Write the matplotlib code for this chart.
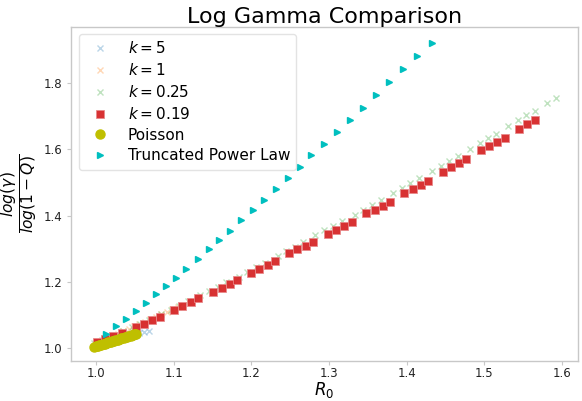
import matplotlib
matplotlib.use("Agg")
import matplotlib.pyplot as plt

# k = 5
k5_R = [0.999, 1.006, 1.013, 1.020, 1.027, 1.034, 1.041, 1.048, 1.055, 1.062, 1.068]
k5_v = [1.004, 1.009, 1.014, 1.019, 1.024, 1.029, 1.034, 1.039, 1.044, 1.049, 1.052]

# k = 1
k1_R = [1.000, 1.007, 1.014, 1.021, 1.028, 1.035, 1.042, 1.049, 1.056, 1.063,
        1.070, 1.077, 1.084, 1.091, 1.098, 1.105]
k1_v = [1.012, 1.020, 1.028, 1.035, 1.043, 1.050, 1.058, 1.065, 1.073, 1.080,
        1.088, 1.095, 1.103, 1.110, 1.118, 1.125]

# k = 0.25
k025_R = [0.998, 1.008, 1.019, 1.035, 1.046, 1.057, 1.068, 1.084, 1.096, 1.107,
          1.118, 1.134, 1.145, 1.157, 1.168, 1.184, 1.195, 1.206, 1.218, 1.234,
          1.245, 1.256, 1.267, 1.282, 1.294, 1.305, 1.317, 1.333, 1.344, 1.355,
          1.367, 1.382, 1.394, 1.405, 1.416, 1.433, 1.444, 1.455, 1.466, 1.482,
          1.494, 1.505, 1.515, 1.531, 1.543, 1.554, 1.565, 1.581, 1.592]
k025_v = [1.014, 1.024, 1.035, 1.051, 1.063, 1.074, 1.085, 1.102, 1.115, 1.128,
          1.141, 1.159, 1.172, 1.185, 1.198, 1.216, 1.230, 1.244, 1.258, 1.278,
          1.292, 1.306, 1.320, 1.342, 1.357, 1.370, 1.384, 1.403, 1.417, 1.432,
          1.447, 1.469, 1.484, 1.498, 1.513, 1.534, 1.550, 1.564, 1.579, 1.601,
          1.619, 1.634, 1.648, 1.671, 1.688, 1.703, 1.716, 1.741, 1.756]

# k = 0.19
k019_R = [1.001, 1.012, 1.022, 1.033, 1.052, 1.062, 1.072, 1.083, 1.101, 1.111,
          1.122, 1.132, 1.151, 1.162, 1.172, 1.182, 1.200, 1.210, 1.221, 1.231,
          1.249, 1.259, 1.270, 1.280, 1.299, 1.309, 1.320, 1.330, 1.348, 1.359,
          1.369, 1.379, 1.397, 1.408, 1.418, 1.428, 1.447, 1.457, 1.467, 1.477,
          1.496, 1.506, 1.516, 1.527, 1.545, 1.555, 1.566]
k019_v = [1.017, 1.027, 1.036, 1.045, 1.062, 1.074, 1.085, 1.095, 1.116, 1.128,
          1.140, 1.150, 1.170, 1.182, 1.193, 1.204, 1.227, 1.238, 1.250, 1.262,
          1.286, 1.298, 1.309, 1.321, 1.345, 1.357, 1.369, 1.381, 1.408, 1.418,
          1.430, 1.442, 1.469, 1.481, 1.493, 1.505, 1.533, 1.546, 1.558, 1.570,
          1.598, 1.611, 1.623, 1.635, 1.663, 1.677, 1.689]

# Poisson
poi_R = [0.998, 0.9995, 1.001, 1.0025, 1.004, 1.0055, 1.007, 1.0085, 1.010, 1.0115,
         1.013, 1.0145, 1.016, 1.0175, 1.019, 1.0205, 1.022, 1.0235, 1.025, 1.0265,
         1.028, 1.0295, 1.031, 1.0325, 1.034, 1.0355, 1.037, 1.0385, 1.040, 1.0415,
         1.043, 1.0445, 1.046, 1.0475, 1.049, 1.0505, 1.052]
poi_v = [1.004, 1.005, 1.006, 1.007, 1.008, 1.009, 1.010, 1.011, 1.012, 1.013,
         1.014, 1.016, 1.017, 1.018, 1.019, 1.020, 1.021, 1.022, 1.023, 1.024,
         1.025, 1.026, 1.027, 1.029, 1.030, 1.031, 1.032, 1.033, 1.034, 1.035,
         1.036, 1.037, 1.038, 1.040, 1.041, 1.042, 1.043]

# Truncated power law
tpl_R = [1.013, 1.026, 1.039, 1.051, 1.064, 1.077, 1.090, 1.103, 1.116, 1.131,
         1.145, 1.159, 1.173, 1.187, 1.202, 1.217, 1.232, 1.247, 1.263, 1.277,
         1.294, 1.311, 1.327, 1.344, 1.361, 1.378, 1.396, 1.414, 1.433]
tpl_v = [1.042, 1.065, 1.087, 1.112, 1.137, 1.162, 1.188, 1.212, 1.240, 1.268,
         1.298, 1.327, 1.355, 1.386, 1.417, 1.448, 1.480, 1.513, 1.548, 1.582,
         1.617, 1.653, 1.690, 1.726, 1.764, 1.803, 1.842, 1.883, 1.923]

x_ticks = [1.0, 1.1, 1.2, 1.3, 1.4, 1.5, 1.6]
y_ticks = [1.0, 1.2, 1.4, 1.6, 1.8]

fig = plt.figure(figsize=(5.82, 4.01), dpi=100)
ax = fig.add_axes([0.122, 0.1, 0.871, 0.8334])

ax.plot(k5_R, k5_v, 'x', color='tab:blue', alpha=0.3, ms=5, label='$k=5$')
ax.plot(k1_R, k1_v, 'x', color='tab:orange', alpha=0.3, ms=5, label='$k=1$')
ax.plot(k025_R, k025_v, 'x', color='tab:green', alpha=0.3, ms=5, label='$k=0.25$')
ax.plot(k019_R, k019_v, 's', color='tab:red', alpha=0.95, ms=5.3, mec='#e8898a', mew=0.6,
        label='$k=0.19$')
ax.plot(poi_R, poi_v, 'o', color='y', ms=6.5, label='Poisson')
ax.plot(tpl_R, tpl_v, '>', color='c', ms=5, label='Truncated Power Law')

ax.set_xlim(0.9678, 1.6207)
ax.set_ylim(0.961, 1.971)
ax.set_xticks(x_ticks)
ax.set_yticks(y_ticks)
ax.set_xticklabels([f"{t:.1f}" for t in x_ticks])
ax.set_yticklabels([f"{t:.1f}" for t in y_ticks])

for s in ax.spines.values():
    s.set_color('#c8c8c8')
    s.set_linewidth(1.0)
ax.tick_params(axis='both', labelsize=8.5, colors='#c8c8c8', labelcolor='#222222',
               length=3, width=0.8)
ax.tick_params(axis='x', pad=1.5)

ax.set_title('Log Gamma Comparison', fontsize=16, pad=-3.2)
ax.set_xlabel('$R_0$', fontsize=12, labelpad=0)
ax.set_ylabel(r'$\frac{log(\gamma)}{log(1-Q)}$', fontsize=16, labelpad=2)

leg = ax.legend(loc='upper left', fontsize=11, numpoints=1, frameon=True,
                borderaxespad=0.5, labelspacing=0.38)
leg.get_frame().set_edgecolor('#dddddd')

fig.savefig('out.png', dpi=100)
